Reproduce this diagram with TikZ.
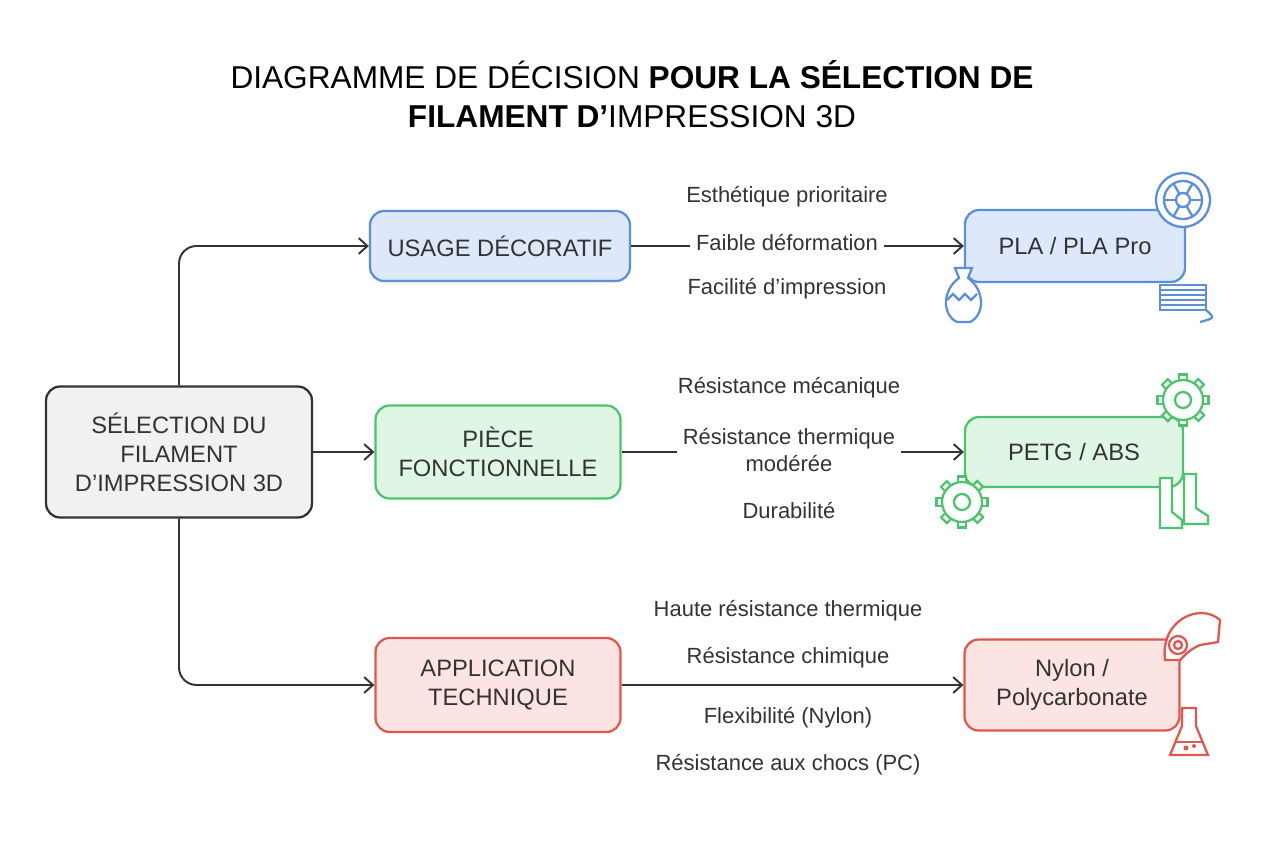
\documentclass[tikz,border=0pt]{standalone}
\usepackage{fontspec}
\setmainfont{Liberation Sans}
\usetikzlibrary{arrows.meta,positioning}
\definecolor{bluefill}{HTML}{DDE8FA}
\definecolor{blueline}{HTML}{5B8FD9}
\definecolor{greenfill}{HTML}{DFF6E5}
\definecolor{greenline}{HTML}{4CC46E}
\definecolor{redfill}{HTML}{FCE4E2}
\definecolor{redline}{HTML}{E0574E}
\definecolor{grayfill}{HTML}{F1F1F1}
\definecolor{ink}{HTML}{333333}

\begin{document}
\begin{tikzpicture}[
        x=0.02cm, y=-0.02cm,
        box/.style={rectangle, rounded corners=8pt, line width=1.3pt, align=center, font=\fontsize{13.5}{16.5}\selectfont, text=ink},
        root/.style={box, draw=ink, fill=grayfill, minimum width=5.32cm, minimum height=2.62cm},
        usage/.style={box, draw=blueline, fill=bluefill},
        piece/.style={box, draw=greenline, fill=greenfill},
        tech/.style={box, draw=redline, fill=redfill},
        crit/.style={font=\fontsize{12.5}{15.5}\selectfont, text=ink, align=center},
        arrow/.style={-{Straight Barb[length=5pt,width=9pt]}, line width=1.1pt, draw=ink},
        link/.style={line width=1.1pt, draw=ink},
        icon/.style={line width=1.3pt}
    ]
        \useasboundingbox (0,0) rectangle (1264,848);

        % Title
        \node [font=\fontsize{18}{22}\selectfont, text=black, align=center] (title) at (632,94)
            {DIAGRAMME DE DÉCISION \textbf{POUR LA SÉLECTION DE}\\\textbf{FILAMENT D’}IMPRESSION 3D};

        % Root
        \node [root] (root) at (179,452) {SÉLECTION DU\\FILAMENT\\D’IMPRESSION 3D};

        % Branches
        \node [usage, minimum width=5.2cm, minimum height=1.4cm] (deco) at (500,246) {USAGE DÉCORATIF};
        \node [piece, minimum width=4.9cm, minimum height=1.86cm] (func) at (498,452) {PIÈCE\\FONCTIONNELLE};
        \node [tech, minimum width=4.9cm, minimum height=1.88cm] (techapp) at (498,685) {APPLICATION\\TECHNIQUE};

        % Results
        \node [usage, minimum width=4.4cm, minimum height=1.44cm] (pla) at (1075,246) {PLA / PLA Pro};
        \node [piece, minimum width=4.36cm, minimum height=1.4cm] (petg) at (1074,452) {PETG / ABS};
        \node [tech, minimum width=4.3cm, minimum height=1.82cm] (nylon) at (1072,685) {Nylon /\\Polycarbonate};

        % Criteria
        \node [crit] (c1a) at (787,197) {Esthétique prioritaire};
        \node [crit] (c1b) at (787,243) {Faible déformation};
        \node [crit] (c1c) at (787,289) {Facilité d’impression};
        \node [crit] (c2a) at (789,388) {Résistance mécanique};
        \node [crit] (c2b) at (789,450) {Résistance thermique\\modérée};
        \node [crit] (c2c) at (789,511) {Durabilité};
        \node [crit] (c3a) at (788,611) {Haute résistance thermique};
        \node [crit] (c3b) at (788,658) {Résistance chimique};
        \node [crit] (c3c) at (788,718) {Flexibilité (Nylon)};
        \node [crit] (c3d) at (788,765) {Résistance aux chocs (PC)};

        % Arrows from root
        \draw [arrow, rounded corners=10pt] (root.north) |- (deco.west);
        \draw [arrow] (root.east) -- (func.west);
        \draw [arrow, rounded corners=10pt] (root.south) |- (techapp.west);

        % Arrows to results
        \draw [link] (deco.east) -- (deco.east -| c1b.west);
        \draw [arrow] (pla.west -| c1b.east) -- (pla.west);
        \draw [link] (func.east) -- (func.east -| c2b.west);
        \draw [arrow] (petg.west -| c2b.east) -- (petg.west);
        \draw [arrow] (techapp.east) -- (nylon.west);

        % Icons: spools and vase
        \begin{scope}[blueline, icon]
            \draw [fill=white] (1183,200) circle (27);
            \draw (1183,200) circle (19) circle (7);
            \foreach \a in {0,60,...,300} \draw (1183,200) ++(\a:7) -- ++(\a:12);
            \draw [fill=white] (1160,285) rectangle (1206,310);
            \foreach \yy in {290,295,...,305} \draw (1160,\yy) -- (1206,\yy);
            \draw (1206,310) .. controls (1215,318) .. (1200,322);
            \draw [fill=white] (955,268) -- (972,268) -- (968,278) .. controls (985,290) and (985,315) .. (970,322)
                -- (957,322) .. controls (942,315) and (942,290) .. (959,278) -- cycle;
            \draw (947,300) -- (953,294) -- (959,300) -- (965,294) -- (971,300) -- (977,294);
        \end{scope}

        % Icons: gears and boots
        \begin{scope}[greenline, icon]
            \foreach \cx/\cy in {1183/400, 962/502} {
                \foreach \a in {0,45,...,315}
                    \draw [fill=white] (\cx,\cy) ++(\a-12:20) -- ++(\a:6) -- ++(\a+90:8) -- ++(\a:-6);
                \draw [fill=white] (\cx,\cy) circle (20);
                \draw (\cx,\cy) circle (8);
            }
            \draw [fill=white] (1160,478) -- (1172,478) -- (1172,512) -- (1182,520) -- (1182,528) -- (1160,528) -- cycle;
            \draw [fill=white] (1184,474) -- (1196,474) -- (1196,508) -- (1208,516) -- (1208,524) -- (1184,524) -- cycle;
        \end{scope}

        % Icons: helmet and flask
        \begin{scope}[redline, icon]
            \draw [fill=white] (1165,660) .. controls (1160,620) and (1200,602) .. (1220,620)
                -- (1218,642) -- (1200,645) .. controls (1190,650) .. (1180,660) -- cycle;
            \draw (1178,645) circle (9) circle (4);
            \draw [fill=white] (1182,708) -- (1196,708) -- (1196,726) -- (1208,755) -- (1170,755) -- (1182,726) -- cycle;
            \draw (1176,742) -- (1202,742);
            \fill (1186,748) circle (2.5) (1194,746) circle (2);
        \end{scope}
    \end{tikzpicture}
\end{document}
